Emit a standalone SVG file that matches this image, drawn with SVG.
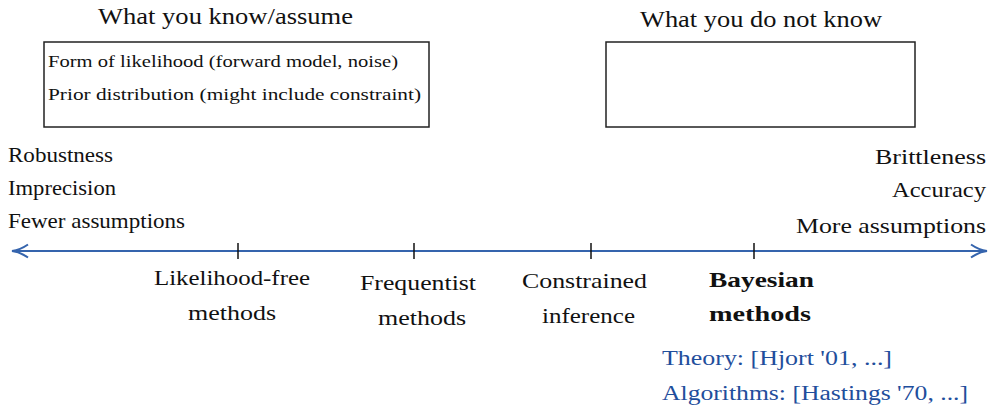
<svg xmlns="http://www.w3.org/2000/svg" width="990" height="408" viewBox="0 0 990 408" font-family="Liberation Serif">
<defs>
<style>
text{fill:#111}
.t{font-size:23px}
.b{font-size:17.5px}
.s{font-size:21px}
.l{font-size:21px}
.bold{font-weight:bold}
.blue{fill:#1f4e9c;font-size:20.5px}
.box{fill:none;stroke:#222;stroke-width:1.5}
.axis{stroke:#3564ad;stroke-width:2;fill:none}
.tick{stroke:#111;stroke-width:1.5}
</style>
<marker id="arr" viewBox="0 0 20 16" refX="18" refY="8" markerWidth="20" markerHeight="16" markerUnits="userSpaceOnUse" orient="auto-start-reverse">
<path d="M2,1.5 Q10,7 18,8 Q10,9 2,14.5" fill="none" stroke="#3564ad" stroke-width="2"/>
</marker>
</defs>
<g id="known" font-family="Liberation Serif">
<text class="t" x="98" y="24" textLength="255" lengthAdjust="spacingAndGlyphs">What you know/assume</text>
<rect class="box" x="44" y="42" width="385" height="85"/>
<text class="b" x="48" y="67" textLength="350" lengthAdjust="spacingAndGlyphs">Form of likelihood (forward model, noise)</text>
<text class="b" x="48" y="100" textLength="373" lengthAdjust="spacingAndGlyphs">Prior distribution (might include constraint)</text>
</g>
<g id="unknown" font-family="Liberation Serif">
<text class="t" x="640" y="27" textLength="242" lengthAdjust="spacingAndGlyphs">What you do not know</text>
<rect class="box" x="606" y="42" width="309" height="85"/>
</g>
<g id="left-props" font-family="Liberation Serif">
<text class="s" x="8" y="162" textLength="105" lengthAdjust="spacingAndGlyphs">Robustness</text>
<text class="s" x="8" y="195" textLength="108" lengthAdjust="spacingAndGlyphs">Imprecision</text>
<text class="s" x="8" y="228" textLength="177" lengthAdjust="spacingAndGlyphs">Fewer assumptions</text>
</g>
<g id="right-props" font-family="Liberation Serif">
<text class="s" x="875" y="164" textLength="111" lengthAdjust="spacingAndGlyphs">Brittleness</text>
<text class="s" x="892" y="197" textLength="94" lengthAdjust="spacingAndGlyphs">Accuracy</text>
<text class="s" x="796" y="233" textLength="190" lengthAdjust="spacingAndGlyphs">More assumptions</text>
</g>
<g id="connectors">
<line class="axis" x1="12" y1="251" x2="987" y2="251" marker-start="url(#arr)" marker-end="url(#arr)"/>
<line class="tick" x1="238" y1="243" x2="238" y2="259"/>
<line class="tick" x1="414" y1="243" x2="414" y2="259"/>
<line class="tick" x1="591" y1="243" x2="591" y2="259"/>
<line class="tick" x1="754" y1="243" x2="754" y2="259"/>
</g>
<g id="likelihood-free" font-family="Liberation Serif">
<text class="l" x="154" y="285" textLength="156" lengthAdjust="spacingAndGlyphs">Likelihood-free</text>
<text class="l" x="188" y="320" textLength="88" lengthAdjust="spacingAndGlyphs">methods</text>
</g>
<g id="frequentist" font-family="Liberation Serif">
<text class="l" x="360" y="290" textLength="116" lengthAdjust="spacingAndGlyphs">Frequentist</text>
<text class="l" x="378" y="325" textLength="88" lengthAdjust="spacingAndGlyphs">methods</text>
</g>
<g id="constrained" font-family="Liberation Serif">
<text class="l" x="522" y="288" textLength="125" lengthAdjust="spacingAndGlyphs">Constrained</text>
<text class="l" x="542" y="323" textLength="93" lengthAdjust="spacingAndGlyphs">inference</text>
</g>
<g id="bayesian" font-family="Liberation Serif">
<text class="l bold" x="709" y="287" textLength="105" lengthAdjust="spacingAndGlyphs">Bayesian</text>
<text class="l bold" x="709" y="321" textLength="102" lengthAdjust="spacingAndGlyphs">methods</text>
<text class="blue" x="662" y="365" textLength="230" lengthAdjust="spacingAndGlyphs">Theory: [Hjort '01, ...]</text>
<text class="blue" x="662" y="400" textLength="306" lengthAdjust="spacingAndGlyphs">Algorithms: [Hastings '70, ...]</text>
</g>
</svg>
